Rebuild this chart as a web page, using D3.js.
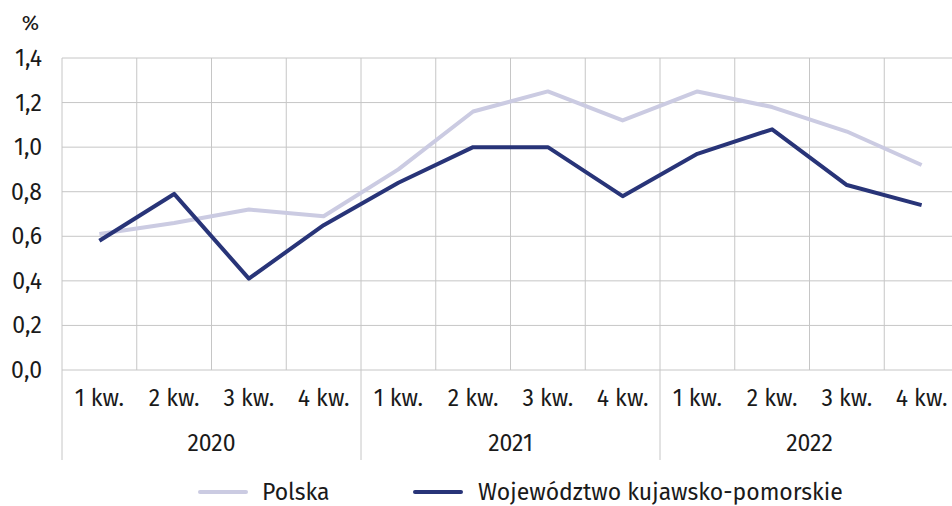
<!DOCTYPE html>
<html>
<head>
<meta charset="utf-8">
<script src="https://cdn.jsdelivr.net/npm/d3@7"></script>
<style>
  body { margin: 0; background: #fff; }
  text { font-family: "Fira Sans", "Noto Sans", "Open Sans", sans-serif; fill: #1a1a1a; }
</style>
</head>
<body>
<div id="chart"></div>
<script>
// data
const years = ['2020', '2021', '2022'];
const quarters = ['1 kw.', '2 kw.', '3 kw.', '4 kw.'];
const polska = [0.61, 0.66, 0.72, 0.69, 0.90, 1.16, 1.25, 1.12, 1.25, 1.18, 1.07, 0.92];
const kujawsko = [0.58, 0.79, 0.41, 0.65, 0.84, 1.00, 1.00, 0.78, 0.97, 1.08, 0.83, 0.74];
const yTicks = [0, 0.2, 0.4, 0.6, 0.8, 1.0, 1.2, 1.4];
const seriesNames = ['Polska', 'Województwo kujawsko-pomorskie'];
const seriesColors = ['#cbcbe2', '#283478'];

const w = 952, h = 506;
const plotLeft = 62, plotRight = 959, plotTop = 58, plotBottom = 370;
const fs = '23px';

const svg = d3.select('#chart').append('svg')
  .attr('width', w).attr('height', h);

const keys = [];
years.forEach(y => quarters.forEach(q => keys.push(y + '|' + q)));

const xScale = d3.scaleBand().domain(keys).range([plotLeft, plotRight]);
const yScale = d3.scaleLinear().domain([0, 1.4]).range([plotBottom, plotTop]);

// horizontal grid
svg.append('g')
  .selectAll('line').data(yTicks).enter().append('line')
  .attr('x1', plotLeft).attr('x2', plotRight)
  .attr('y1', d => yScale(d)).attr('y2', d => yScale(d))
  .attr('stroke', '#c6c6c6').attr('stroke-width', 1);

// vertical grid
svg.append('g')
  .selectAll('line').data(keys).enter().append('line')
  .attr('x1', d => xScale(d)).attr('x2', d => xScale(d))
  .attr('y1', plotTop).attr('y2', plotBottom)
  .attr('stroke', '#c6c6c6').attr('stroke-width', 1);

// year separators below axis
svg.append('g')
  .selectAll('line').data(years).enter().append('line')
  .attr('x1', d => xScale(d + '|' + quarters[0])).attr('x2', d => xScale(d + '|' + quarters[0]))
  .attr('y1', plotBottom).attr('y2', 460)
  .attr('stroke', '#c6c6c6').attr('stroke-width', 1);

// y axis labels
const fmt = d => d3.format('.1f')(d).replace('.', ',');
svg.append('g')
  .selectAll('text').data(yTicks).enter().append('text')
  .attr('x', 42).attr('y', d => yScale(d) + 8)
  .attr('text-anchor', 'end')
  .style('font-size', fs)
  .text(fmt);

svg.append('text')
  .attr('x', 39).attr('y', 30)
  .attr('text-anchor', 'end')
  .style('font-size', '21px')
  .text('%');

// quarter labels
svg.append('g')
  .selectAll('text').data(keys).enter().append('text')
  .attr('x', d => xScale(d) + xScale.bandwidth() / 2)
  .attr('y', 406)
  .attr('text-anchor', 'middle')
  .style('font-size', fs)
  .text(d => d.split('|')[1]);

// year labels
svg.append('g')
  .selectAll('text').data(years).enter().append('text')
  .attr('x', d => (xScale(d + '|' + quarters[0]) + xScale(d + '|' + quarters[3]) + xScale.bandwidth()) / 2)
  .attr('y', 451)
  .attr('text-anchor', 'middle')
  .style('font-size', fs)
  .text(d => d);

// lines
const line = d3.line()
  .x((d, i) => xScale(keys[i]) + xScale.bandwidth() / 2)
  .y(d => yScale(d));

[polska, kujawsko].forEach((s, i) => {
  svg.append('path')
    .datum(s)
    .attr('d', line)
    .attr('fill', 'none')
    .attr('stroke', seriesColors[i])
    .attr('stroke-width', 4)
    .attr('stroke-linejoin', 'round');
});

// legend
const legendPos = [200, 415];
seriesNames.forEach((name, i) => {
  const g = svg.append('g').attr('transform', 'translate(' + legendPos[i] + ',492)');
  g.append('line').attr('x1', 0).attr('x2', 46).attr('y1', 0).attr('y2', 0)
    .attr('stroke', seriesColors[i]).attr('stroke-width', 4).attr('stroke-linecap', 'round');
  g.append('text').attr('x', i === 0 ? 62 : 63).attr('y', 8)
    .style('font-size', fs)
    .text(name);
});
</script>
</body>
</html>
